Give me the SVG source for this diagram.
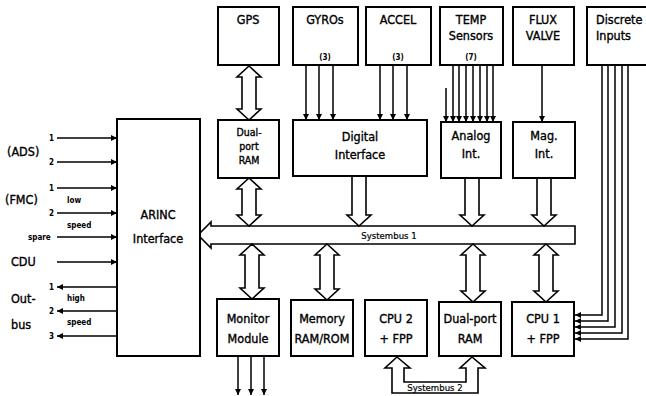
<svg xmlns="http://www.w3.org/2000/svg" width="646" height="396" viewBox="0 0 646 396">
<style>
.box{fill:#fff;stroke:#000;stroke-width:2}
.big{fill:#fff;stroke:#000;stroke-width:1.6;stroke-linejoin:miter}
.ln{fill:none;stroke:#000;stroke-width:1.5}
.t{font-family:"DejaVu Sans Condensed","DejaVu Sans",sans-serif;font-size:12.5px;fill:#000;stroke:#000;stroke-width:0.35;text-anchor:middle}
.t2{font-size:10.5px}
.l{font-family:"DejaVu Sans Condensed","DejaVu Sans",sans-serif;font-size:12.5px;fill:#000;stroke:#000;stroke-width:0.35}
.s{font-family:"DejaVu Sans Condensed","DejaVu Sans",sans-serif;font-size:8px;font-weight:bold;fill:#000}
.sm{font-family:"DejaVu Sans Condensed","DejaVu Sans",sans-serif;font-size:9.5px;fill:#000;stroke:#000;stroke-width:0.2;text-anchor:middle}
</style>
<defs>
<marker id="ah" viewBox="0 0 10 10" refX="10" refY="5" markerWidth="8" markerHeight="6" markerUnits="userSpaceOnUse" orient="auto">
<path d="M0,0 L10,5 L0,10 Z" fill="#000"/>
</marker>
</defs>

<g id="connectors">
<line class="ln" x1="57" y1="138" x2="117" y2="138" marker-end="url(#ah)"/>
<line class="ln" x1="57" y1="162" x2="117" y2="162" marker-end="url(#ah)"/>
<line class="ln" x1="57" y1="188" x2="117" y2="188" marker-end="url(#ah)"/>
<line class="ln" x1="57" y1="213" x2="117" y2="213" marker-end="url(#ah)"/>
<line class="ln" x1="57" y1="237" x2="117" y2="237" marker-end="url(#ah)"/>
<line class="ln" x1="57" y1="262" x2="117" y2="262" marker-end="url(#ah)"/>
<line class="ln" x1="117" y1="287" x2="57" y2="287" marker-end="url(#ah)"/>
<line class="ln" x1="117" y1="311" x2="57" y2="311" marker-end="url(#ah)"/>
<line class="ln" x1="117" y1="336" x2="57" y2="336" marker-end="url(#ah)"/>
<line class="ln" x1="306" y1="65" x2="306" y2="120" marker-end="url(#ah)"/>
<line class="ln" x1="319" y1="65" x2="319" y2="120" marker-end="url(#ah)"/>
<line class="ln" x1="333" y1="65" x2="333" y2="120" marker-end="url(#ah)"/>
<line class="ln" x1="380" y1="65" x2="380" y2="120" marker-end="url(#ah)"/>
<line class="ln" x1="393" y1="65" x2="393" y2="120" marker-end="url(#ah)"/>
<line class="ln" x1="407" y1="65" x2="407" y2="120" marker-end="url(#ah)"/>
<line class="ln" x1="446" y1="88" x2="446" y2="122" marker-end="url(#ah)"/>
<line class="ln" x1="453" y1="65" x2="453" y2="122" marker-end="url(#ah)"/>
<line class="ln" x1="459" y1="65" x2="459" y2="122" marker-end="url(#ah)"/>
<line class="ln" x1="466" y1="65" x2="466" y2="122" marker-end="url(#ah)"/>
<line class="ln" x1="473" y1="65" x2="473" y2="122" marker-end="url(#ah)"/>
<line class="ln" x1="480" y1="65" x2="480" y2="122" marker-end="url(#ah)"/>
<line class="ln" x1="487" y1="65" x2="487" y2="122" marker-end="url(#ah)"/>
<line class="ln" x1="493" y1="65" x2="493" y2="122" marker-end="url(#ah)"/>
<line class="ln" x1="542" y1="65" x2="542" y2="122" marker-end="url(#ah)"/>
<polyline class="ln" points="602,65 602,315 575,315" marker-end="url(#ah)"/>
<polyline class="ln" points="608,65 608,321 575,321" marker-end="url(#ah)"/>
<polyline class="ln" points="615,65 615,327 575,327" marker-end="url(#ah)"/>
<polyline class="ln" points="622,65 622,333 575,333" marker-end="url(#ah)"/>
<polyline class="ln" points="628,65 628,339 575,339" marker-end="url(#ah)"/>
<line class="ln" x1="238" y1="357" x2="238" y2="395" marker-end="url(#ah)"/>
<line class="ln" x1="251" y1="357" x2="251" y2="395" marker-end="url(#ah)"/>
<line class="ln" x1="264" y1="357" x2="264" y2="395" marker-end="url(#ah)"/>

<path class="big" d="M198,235 L211,222 L211,226 L575,226 L575,244 L211,244 L211,248 Z"/>
<text class="sm" x="389" y="239">Systembus 1</text>

<path class="big" d="M249,66 L261,77 L256,77 L256,109 L261,109 L249,120 L237,109 L242,109 L242,77 L237,77 Z"/>
<path class="big" d="M249,178 L261,189 L256,189 L256,215 L261,215 L249,226 L237,215 L242,215 L242,189 L237,189 Z"/>
<path class="big" d="M352,176 L352,215 L347,215 L359,226 L371,215 L366,215 L366,176"/>
<path class="big" d="M465,178 L465,215 L460,215 L472,226 L484,215 L479,215 L479,178"/>
<path class="big" d="M537,178 L537,215 L532,215 L544,226 L556,215 L551,215 L551,178"/>
<path class="big" d="M252,244 L264,255 L259,255 L259,288 L264,288 L252,299 L240,288 L245,288 L245,255 L240,255 Z"/>
<path class="big" d="M327,244 L339,255 L334,255 L334,289 L339,289 L327,300 L315,289 L320,289 L320,255 L315,255 Z"/>
<path class="big" d="M473,244 L485,255 L480,255 L480,291 L485,291 L473,302 L461,291 L466,291 L466,255 L461,255 Z"/>
<path class="big" d="M546,244 L558,255 L553,255 L553,291 L558,291 L546,302 L534,291 L539,291 L539,255 L534,255 Z"/>

<path class="big" d="M397,357 L410,368 L404,368 L404,382 L466,382 L466,368 L460,368 L472,357 L485,368 L478,368 L478,393 L392,393 L392,368 L385,368 Z"/>
<text class="sm" x="435" y="391">Systembus 2</text>
</g>

<g id="arinc"><rect class="box" x="117" y="119" width="83" height="237"/>
<text class="t" x="158" y="219">ARINC</text><text class="t" x="158" y="243">Interface</text></g>

<g id="gps"><rect class="box" x="218" y="7" width="61" height="58"/><text class="t" x="248" y="24">GPS</text></g>
<g id="gyros"><rect class="box" x="293" y="7" width="65" height="58"/><text class="t" x="325" y="24">GYROs</text><text class="s" x="325" y="60" text-anchor="middle">(3)</text></g>
<g id="accel"><rect class="box" x="366" y="7" width="65" height="58"/><text class="t" x="398" y="24">ACCEL</text><text class="s" x="398" y="60" text-anchor="middle">(3)</text></g>
<g id="temp"><rect class="box" x="440" y="7" width="63" height="58"/><text class="t" x="471" y="24">TEMP</text><text class="t" x="471" y="40">Sensors</text><text class="s" x="471" y="60" text-anchor="middle">(7)</text></g>
<g id="flux"><rect class="box" x="513" y="7" width="61" height="58"/><text class="t" x="543" y="24">FLUX</text><text class="t" x="543" y="40">VALVE</text></g>
<g id="discrete"><rect class="box" x="587" y="7" width="64" height="58"/><text class="l" x="596" y="24">Discrete</text><text class="l" x="596" y="40">Inputs</text></g>

<g id="dpram1"><rect class="box" x="218" y="120" width="61" height="58"/>
<text class="t t2" x="249" y="136">Dual-</text><text class="t t2" x="249" y="150">port</text><text class="t t2" x="249" y="164">RAM</text></g>
<g id="digital"><rect class="box" x="293" y="120" width="134" height="56"/>
<text class="t" x="360" y="141">Digital</text><text class="t" x="360" y="159">Interface</text></g>
<g id="analog"><rect class="box" x="441" y="122" width="60" height="56"/>
<text class="t" x="471" y="140">Analog</text><text class="t" x="471" y="158">Int.</text></g>
<g id="mag"><rect class="box" x="513" y="122" width="62" height="56"/>
<text class="t" x="544" y="140">Mag.</text><text class="t" x="544" y="158">Int.</text></g>

<g id="monitor"><rect class="box" x="217" y="299" width="62" height="57"/>
<text class="t" x="248" y="323">Monitor</text><text class="t" x="248" y="343">Module</text></g>
<g id="memory"><rect class="box" x="291" y="300" width="62" height="56"/>
<text class="t" x="322" y="323">Memory</text><text class="t" x="322" y="343">RAM/ROM</text></g>
<g id="cpu2"><rect class="box" x="365" y="300" width="62" height="56"/>
<text class="t" x="396" y="323">CPU 2</text><text class="t" x="396" y="343">+ FPP</text></g>
<g id="dpram2"><rect class="box" x="439" y="302" width="62" height="54"/>
<text class="t" x="470" y="323">Dual-port</text><text class="t" x="470" y="343">RAM</text></g>
<g id="cpu1"><rect class="box" x="512" y="302" width="62" height="54"/>
<text class="t" x="543" y="323">CPU 1</text><text class="t" x="543" y="343">+ FPP</text></g>

<g id="left-labels">
<text class="l" x="7" y="156">(ADS)</text>
<text class="l" x="5" y="204">(FMC)</text>
<text class="l" x="11" y="266">CDU</text>
<text class="l" x="11" y="303">Out-</text>
<text class="l" x="11" y="329">bus</text>
<text class="s" x="49" y="141">1</text>
<text class="s" x="49" y="165">2</text>
<text class="s" x="49" y="191">1</text>
<text class="s" x="49" y="216">2</text>
<text class="s" x="49" y="290">1</text>
<text class="s" x="49" y="314">2</text>
<text class="s" x="49" y="339">3</text>
<text class="s" x="28" y="240">spare</text>
<text class="s" x="67" y="203">low</text>
<text class="s" x="67" y="228">speed</text>
<text class="s" x="67" y="301">high</text>
<text class="s" x="67" y="325">speed</text>
</g>
</svg>
